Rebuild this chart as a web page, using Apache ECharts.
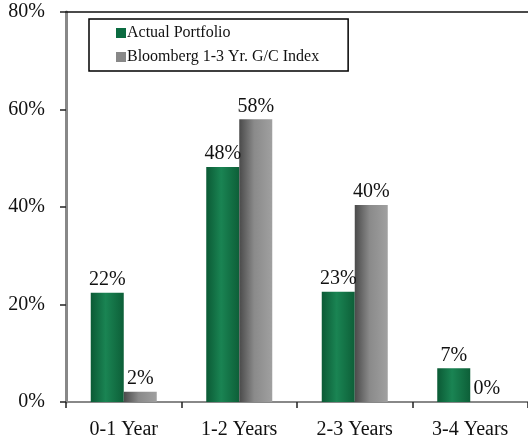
<!DOCTYPE html>
<html><head><meta charset="utf-8">
<script src="https://cdn.jsdelivr.net/npm/echarts@6/dist/echarts.min.js"></script>
<style>html,body{margin:0;padding:0;background:#fff}#c{width:528px;height:440px}</style>
</head><body><div id="c"></div>
<script>
const categories = ['0-1 Year', '1-2 Years', '2-3 Years', '3-4 Years'];
const actualPortfolio = [22.4, 48.2, 22.6, 6.9];
const bloombergIndex = [2.1, 58.0, 40.4, 0];
const seriesNames = ['Actual Portfolio', 'Bloomberg 1-3 Yr. G/C Index'];
const yTicks = [0, 20, 40, 60, 80];

const font = '"Liberation Serif", "DejaVu Serif", serif';
function grad(c1, c2, c3) {
  return new echarts.graphic.LinearGradient(0, 0, 1, 0, [
    {offset: 0, color: c1}, {offset: 0.45, color: c2}, {offset: 1, color: c3}
  ]);
}
const chart = echarts.init(document.getElementById('c'), null, {renderer: 'canvas'});
const labelFmt = p => Math.round(p.value) + '%';
chart.setOption({
  animation: false,
  backgroundColor: '#fff',
  grid: {left: 66, top: 12, width: 465, bottom: 38, containLabel: false},
  legend: {
    left: 89, top: 19, orient: 'vertical',
    padding: [6, 29, 6, 27], itemGap: 8,
    itemWidth: 10, itemHeight: 10, icon: 'rect',
    borderColor: '#000', borderWidth: 1.5,
    textStyle: {fontFamily: font, fontSize: 16, color: '#111', padding: [0, 0, 0, -4]},
    data: [
      {name: seriesNames[0], itemStyle: {color: '#0b6b40'}},
      {name: seriesNames[1], itemStyle: {color: '#888'}}
    ]
  },
  xAxis: [{
    type: 'category', data: categories,
    axisLine: {lineStyle: {color: '#888', width: 2}},
    axisTick: {show: true, length: 6, lineStyle: {color: '#222', width: 1.5}},
    axisLabel: {fontFamily: font, fontSize: 20, color: '#111', margin: 18}
  }, {
    type: 'category', data: categories, position: 'top',
    axisLine: {lineStyle: {color: '#111', width: 1.5}},
    axisTick: {show: false}, axisLabel: {show: false}
  }],
  yAxis: {
    type: 'value', min: 0, max: 80, interval: 20,
    axisLine: {show: true, lineStyle: {color: '#888', width: 3}},
    axisTick: {show: true, length: 6, lineStyle: {color: '#222', width: 1.5}},
    splitLine: {show: false},
    axisLabel: {fontFamily: font, fontSize: 20, color: '#111', margin: 21,
      formatter: v => yTicks.includes(v) ? v + '%' : ''}
  },
  series: [{
    name: seriesNames[0], type: 'bar', data: actualPortfolio,
    barWidth: 33, barGap: '0%',
    itemStyle: {color: grad('#0b5a35', '#1a8453', '#0d5f38')},
    label: {show: true, position: 'top', distance: 3, formatter: labelFmt,
      fontFamily: font, fontSize: 20, color: '#111'}
  }, {
    name: seriesNames[1], type: 'bar', data: bloombergIndex,
    barWidth: 33, barGap: '0%',
    itemStyle: {color: grad('#4a4a4a', '#8a8a8a', '#a0a0a0')},
    label: {show: true, position: 'top', distance: 3, formatter: labelFmt,
      fontFamily: font, fontSize: 20, color: '#111'}
  }]
});
</script></body></html>
